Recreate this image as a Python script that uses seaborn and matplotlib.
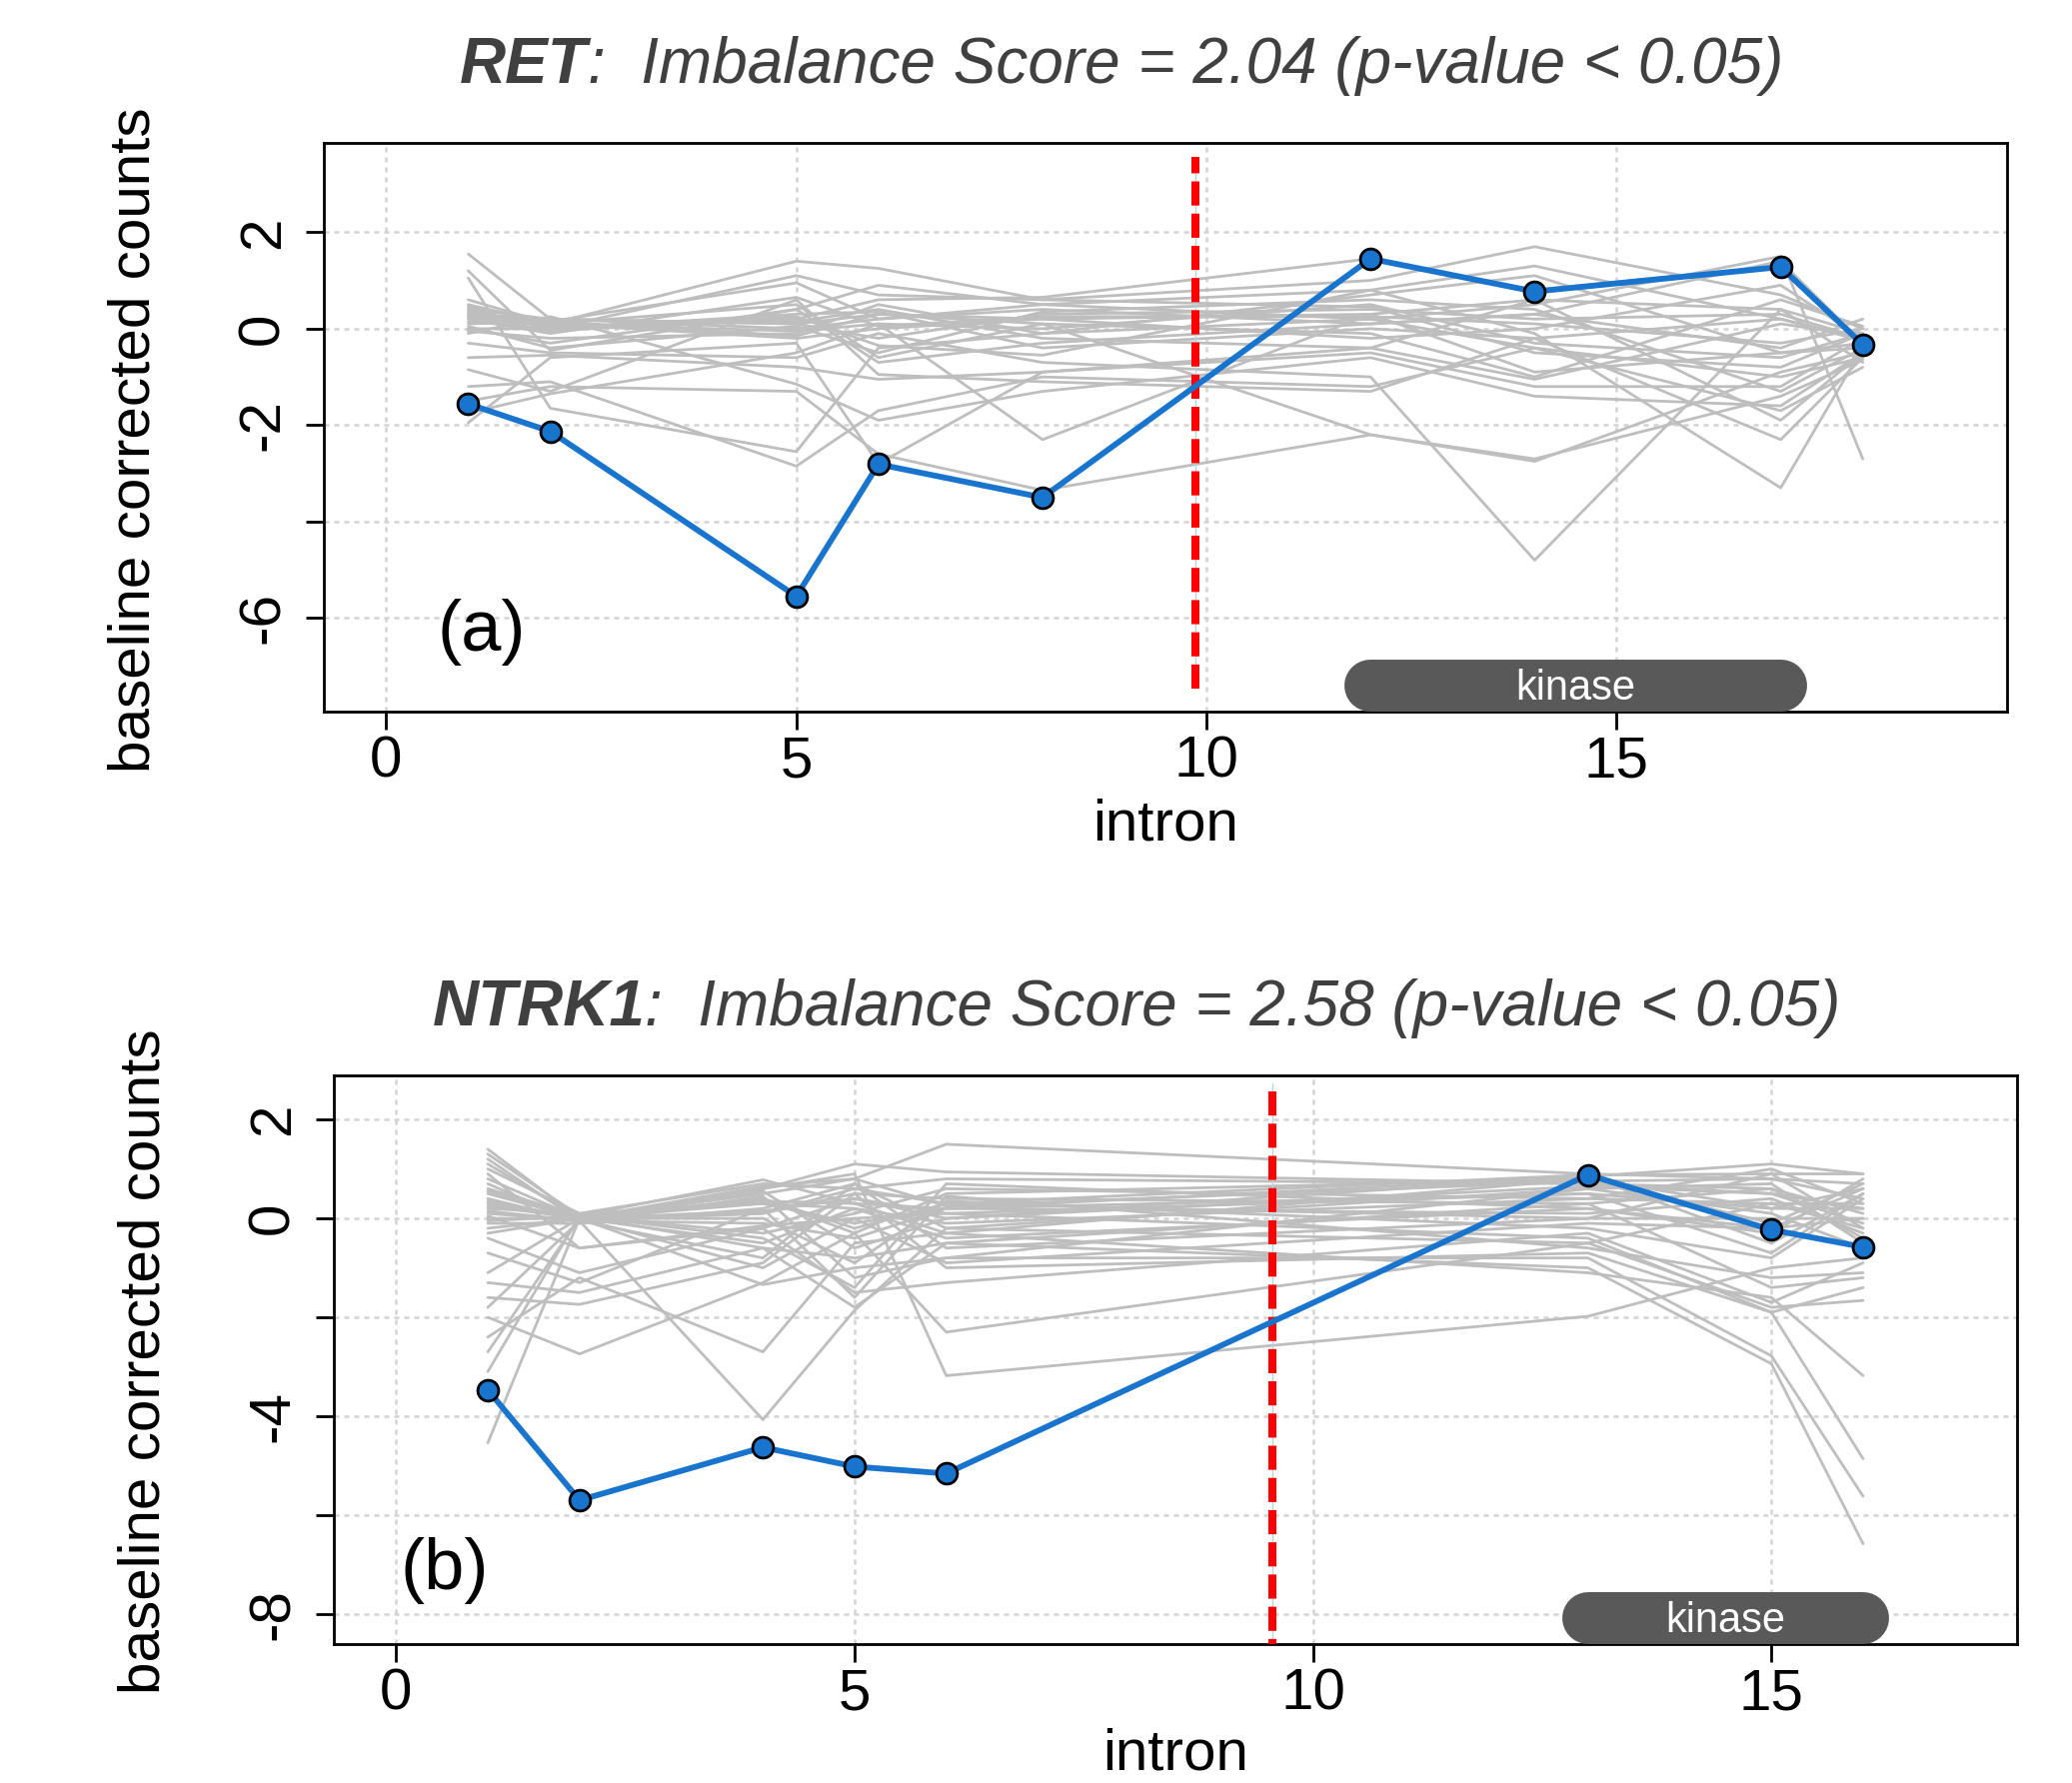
import matplotlib.pyplot as plt
import pandas as pd
import seaborn as sns
from matplotlib.offsetbox import AnnotationBbox, HPacker, TextArea


sns.set_style("ticks")
plt.rcParams["font.family"] = ["Liberation Sans", "DejaVu Sans"]
plt.rcParams["text.color"] = "black"
plt.rcParams["axes.labelcolor"] = "black"
plt.rcParams["xtick.color"] = "black"
plt.rcParams["ytick.color"] = "black"


# Panel (a): RET
ret_introns = [1, 2, 5, 6, 8, 12, 14, 17, 18]
ret_sample = [-1.56, -2.13, -5.55, -2.81, -3.50, 1.45, 0.77, 1.28, -0.33]
ret_others = [
    [1.55, 0.20, 0.10, 0.30, 0.20, 0.30, 0.60, 0.40, -0.10],
    [1.20, -0.45, 0.40, 0.90, 0.50, 0.80, 1.30, 0.20, -0.20],
    [1.05, -1.65, -2.55, -0.40, -0.10, 0.20, -0.40, -1.00, -0.60],
    [0.50, 0.10, 1.40, 1.25, 0.60, 1.00, 1.70, 0.70, 0.00],
    [0.45, 0.15, 0.95, 0.20, 0.40, 0.10, 0.30, 1.40, -0.30],
    [0.40, 0.00, 0.20, 0.60, 0.65, 1.45, 0.80, 1.30, -0.35],
    [0.35, 0.10, -0.05, 0.10, 0.00, 0.50, -0.30, -0.60, -0.10],
    [0.30, 0.20, 0.10, -0.20, 0.30, 0.40, 0.20, 0.30, -0.20],
    [0.25, 0.05, 0.15, 0.40, -0.20, -0.40, -1.05, 0.10, -0.15],
    [0.20, -0.10, 0.65, 0.05, 0.25, 0.25, 0.10, -0.30, 0.00],
    [0.10, 0.15, -0.15, 0.30, 0.10, -0.10, -1.00, 0.60, 0.05],
    [0.05, -0.40, 0.05, -0.50, 0.35, 0.60, 0.40, -1.30, -0.40],
    [0.00, 0.00, 0.30, 0.35, -0.40, 0.00, -0.20, 0.20, -0.25],
    [-0.05, -0.20, -0.10, 0.50, -0.10, 0.70, 1.10, -0.50, -0.30],
    [-0.10, 0.25, -1.15, -1.90, -1.30, -0.60, -1.40, -1.60, -0.50],
    [-0.30, -0.50, -0.60, -0.10, -0.70, -1.00, -4.80, 0.40, -0.70],
    [-0.60, -0.55, -0.80, -1.05, -0.90, -0.50, -1.20, -1.20, -0.20],
    [-0.85, -1.30, 0.60, -0.95, -1.10, -1.30, -0.20, -2.30, -0.60],
    [-1.20, -1.10, -2.85, -1.70, -1.00, -1.20, -0.40, -1.70, -0.80],
    [-1.75, -1.35, -0.50, 0.10, -2.30, 0.30, -0.90, -0.50, -0.40],
    [-1.95, -0.60, -0.30, -2.80, -0.90, -0.40, 0.60, -1.90, -0.50],
    [0.60, 0.10, 0.50, -0.60, 0.10, -2.20, -2.70, -1.40, -0.65],
    [-1.50, -1.20, -1.30, -2.60, -3.35, -2.20, -2.75, -0.90, -0.50],
    [0.40, 0.20, 0.00, 0.20, 0.50, 0.20, 0.50, 1.50, -2.70],
    [0.25, -0.05, 0.25, -0.35, -0.55, 0.80, -0.10, -3.30, -0.40],
    [0.15, 0.00, 1.10, 0.70, 0.60, 0.45, -0.50, -0.80, -0.10],
    [0.30, 0.10, -0.20, 0.00, 0.20, -0.20, 0.00, 0.90, -0.20],
    [0.00, -0.30, 0.40, -0.70, -0.30, 0.10, 0.30, -0.40, 0.20],
]
ret_breakpoint = 9.87
ret_break_span = [-7.46, 3.57]
ret_kinase = [12, 17]
ret_kinase_y = -7.41
ret_yticks = [2, 0, -2, -4, -6]
ret_yticklabels = ["2", "0", "-2", "", "-6"]

# Panel (b): NTRK1
ntrk1_introns = [1, 2, 4, 5, 6, 13, 15, 16]
ntrk1_sample = [-3.47, -5.70, -4.63, -5.02, -5.16, 0.88, -0.23, -0.58]
ntrk1_others = [
    [1.40, 0.00, 0.50, 0.80, 1.50, 0.90, 0.80, 0.40],
    [1.30, 0.05, 0.78, 0.30, 0.20, 0.85, 1.10, 0.90],
    [1.20, -0.05, 0.60, 1.10, 0.94, 0.70, 0.50, 0.20],
    [1.00, 0.10, 0.70, 0.60, 0.30, 0.88, 0.90, -0.20],
    [0.90, -0.60, -0.20, 0.40, 0.10, 0.50, 0.20, 0.60],
    [0.80, 0.00, 0.40, -0.30, 0.50, 0.80, -0.10, 0.70],
    [0.70, -0.10, 0.20, 0.70, -0.20, 0.60, 0.70, -0.50],
    [0.60, 0.05, -0.30, 0.10, 0.60, 0.40, 0.30, 0.30],
    [0.50, 0.00, 0.55, -0.60, 0.00, 0.85, -0.50, 0.50],
    [0.40, -0.05, 0.10, 0.50, 0.40, 0.30, 0.60, 0.10],
    [0.30, 0.00, -0.50, 0.20, -0.40, 0.20, -0.30, 0.80],
    [0.20, 0.10, 0.30, -0.10, 0.20, 0.10, 0.40, -0.30],
    [0.10, -0.05, -0.80, 0.70, -0.60, 0.00, 0.00, 0.00],
    [0.00, 0.00, 0.00, -0.90, 0.35, -0.20, -0.80, 0.40],
    [-0.10, -0.10, 0.45, -1.20, -0.80, 0.60, 0.10, -0.60],
    [-0.20, 0.00, -1.00, 0.00, 0.10, -0.40, -1.90, -1.40],
    [-0.40, -1.10, -0.20, -1.50, -1.30, -0.30, -1.70, -0.90],
    [-0.70, -1.30, 0.20, -1.60, 0.45, -0.60, -1.20, -1.10],
    [-1.10, 0.00, -1.34, -1.00, -0.80, -0.80, -2.78, -5.62],
    [-1.30, -1.50, -0.60, -1.80, -0.50, -1.00, -2.94, -6.58],
    [-1.60, -1.74, -0.90, 0.50, -1.00, -0.70, -1.90, -4.86],
    [-1.80, -0.05, -4.07, -1.86, -0.20, -0.50, -1.80, -1.66],
    [-2.00, -2.74, -1.30, -0.30, -2.30, -0.50, 0.30, -0.20],
    [-2.40, -1.20, -2.70, -0.50, -0.30, -1.10, -1.60, -3.18],
    [-2.70, 0.00, 0.60, 0.90, -3.18, -1.98, -1.00, -0.80],
    [-3.10, 0.05, -0.40, -1.40, 0.70, 0.20, -0.20, 0.60],
    [-4.54, 0.00, 0.30, 0.20, -0.10, 0.40, 1.00, 0.30],
    [0.25, 0.00, 0.10, 0.60, 0.80, 0.70, 0.60, -0.40],
    [0.15, -0.05, -0.10, -0.40, 0.20, 0.50, -0.70, 0.50],
    [-0.05, 0.05, 0.35, 0.30, -0.30, 0.80, 0.20, 0.20],
    [0.35, 0.00, 0.65, 0.80, 0.25, 0.75, 0.80, 0.70],
    [0.55, 0.05, -0.60, -0.80, -0.50, 0.30, -1.40, -1.20],
    [-0.30, 0.00, 0.15, 0.40, 0.00, 0.65, 0.50, -0.10],
    [0.05, -0.60, -0.15, 0.00, -0.90, -0.10, -0.20, 0.00],
    [1.10, 0.00, 0.40, -0.20, 0.30, 0.00, 0.90, 0.90],
]
ntrk1_breakpoint = 9.56
ntrk1_break_span = [-9.0, 2.74]
ntrk1_kinase = [13, 16]
ntrk1_kinase_y = -8.09
ntrk1_yticks = [2, 0, -2, -4, -6, -8]
ntrk1_yticklabels = ["2", "0", "", "-4", "", "-8"]

xticks = [0, 5, 10, 15]


def long_form(introns, rows):
    records = []
    for i, row in enumerate(rows):
        for x, y in zip(introns, row):
            records.append({"sample": i, "intron": x, "counts": y})
    return pd.DataFrame(records)


def add_title(fig, gene, rest, x, y):
    props = dict(fontsize=23, fontstyle="italic", color="#404040")
    bold = TextArea(gene, textprops=dict(props, fontweight="bold"))
    plain = TextArea(rest, textprops=props)
    box = HPacker(children=[bold, plain], align="baseline", pad=0, sep=0)
    ab = AnnotationBbox(
        box, (x, y), xycoords="figure fraction",
        frameon=False, box_alignment=(0.5, 0.5)
    )
    fig.add_artist(ab)


def draw_panel(ax, introns, sample, others, breakpoint, break_span,
               kinase, kinase_y, xlim, ylim, yticks, yticklabels,
               letter, letter_xy, xlabel_y, ylabel_y):
    ax.set_axisbelow(True)
    ax.grid(True, color="#D3D3D3", linestyle=(0, (2, 2)), linewidth=0.9)

    df = long_form(introns, others)
    sns.lineplot(
        data=df, x="intron", y="counts", units="sample", estimator=None,
        color="#BEBEBE", linewidth=1.0, ax=ax, legend=False
    )

    # breakpoint
    ax.plot([breakpoint, breakpoint], break_span,
            color="#ADD8E6", linewidth=0.5, zorder=3)
    ax.plot([breakpoint, breakpoint], break_span,
            color="red", linewidth=2.9, linestyle=(0, (3, 1)), zorder=3)

    sns.lineplot(
        x=introns, y=sample, color="#1874CD", linewidth=2.1,
        marker="o", markersize=7.5, markerfacecolor="#1874CD",
        markeredgecolor="black", markeredgewidth=1.0, ax=ax, zorder=4
    )

    # kinase domain
    ax.plot(kinase, [kinase_y, kinase_y], color="#595959",
            linewidth=18.7, solid_capstyle="round", zorder=5)
    ax.text(sum(kinase) / 2, kinase_y - 0.05, "kinase", color="white",
            fontsize=15, ha="center", va="center", zorder=6)

    ax.text(letter_xy[0], letter_xy[1], letter, fontsize=26,
            ha="center", va="center")

    ax.set_xlim(xlim)
    ax.set_ylim(ylim)
    ax.set_xticks(xticks)
    ax.set_xticklabels([str(t) for t in xticks])
    ax.set_yticks(yticks)
    ax.set_yticklabels(yticklabels)

    ax.tick_params(axis="both", direction="out", length=6.5, width=1.0,
                   labelsize=21, bottom=True, left=True)
    ax.tick_params(axis="x", pad=2)
    ax.tick_params(axis="y", pad=5.5, labelrotation=90)
    for label in ax.get_yticklabels():
        label.set_verticalalignment("center")

    for spine in ax.spines.values():
        spine.set_visible(True)
        spine.set_color("black")
        spine.set_linewidth(1.0)

    ax.set_xlabel("intron", fontsize=21)
    ax.set_ylabel("baseline corrected counts", fontsize=21)
    ax.xaxis.set_label_coords(0.5, xlabel_y)
    ax.yaxis.set_label_coords(-0.0962, ylabel_y)


fig = plt.figure(figsize=(10.365, 8.92), dpi=200)

ax_top = fig.add_axes([0.1563, 0.6009, 0.8124, 0.3189])
ax_bottom = fig.add_axes([0.1611, 0.0779, 0.8124, 0.3189])

draw_panel(
    ax_top, ret_introns, ret_sample, ret_others, ret_breakpoint,
    ret_break_span, ret_kinase, ret_kinase_y,
    (-0.76, 19.76), (-7.94, 3.85), ret_yticks, ret_yticklabels,
    "(a)", (1.16, -6.3), -0.152, 0.478
)
draw_panel(
    ax_bottom, ntrk1_introns, ntrk1_sample, ntrk1_others, ntrk1_breakpoint,
    ntrk1_break_span, ntrk1_kinase, ntrk1_kinase_y,
    (-0.68, 17.68), (-8.61, 2.89), ntrk1_yticks, ntrk1_yticklabels,
    "(b)", (0.53, -7.13), -0.146, 0.497
)

add_title(fig, "RET", ":  Imbalance Score = 2.04 (p-value < 0.05)",
          0.5412, 0.9632)
add_title(fig, "NTRK1", ":  Imbalance Score = 2.58 (p-value < 0.05)",
          0.5485, 0.4345)

fig.savefig("out.png", dpi=200)
plt.close(fig)
